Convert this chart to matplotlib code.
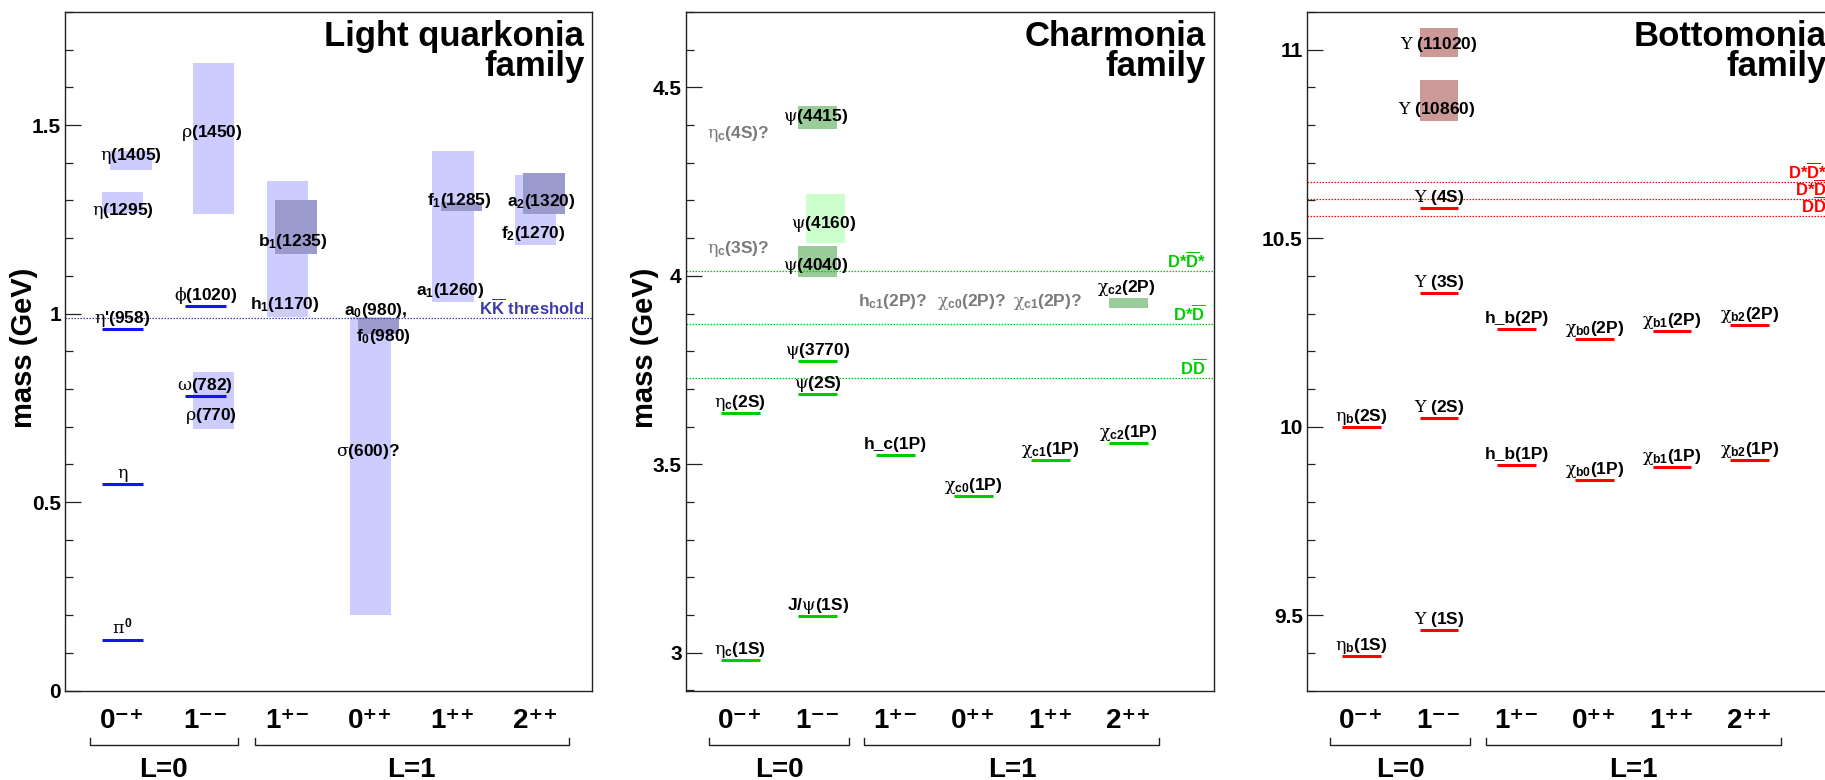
import matplotlib
matplotlib.use("Agg")
import matplotlib.pyplot as plt
from matplotlib.patches import Rectangle
from matplotlib.ticker import MultipleLocator
from matplotlib.transforms import blended_transform_factory, offset_copy

plt.rcParams.update({
    "font.family": ["Liberation Sans", "DejaVu Sans"],
    "font.weight": "bold",
    "mathtext.fontset": "custom",
    "mathtext.rm": "DejaVu Serif:weight=normal",
    "mathtext.it": "DejaVu Serif:weight=normal",
    "mathtext.bf": "Liberation Sans:weight=bold",
    "mathtext.sf": "Liberation Sans:weight=normal",
    "mathtext.fallback": "cm",
})

# ---------------------------------------------------------------- shared axes
jpc_labels = ["0\u207b\u207a", "1\u207b\u207b", "1\u207a\u207b",
              "0\u207a\u207a", "1\u207a\u207a", "2\u207a\u207a"]
jpc_columns = [1, 2, 3, 4, 5, 6]
orbital_labels = ["L=0", "L=1"]
orbital_spans = [(0.6, 2.4), (2.6, 6.4)]

# ---------------------------------------------------------------- light quarkonia (GeV)
light_level_names = [r"$\pi^{\mathbf{0}}$", r"$\eta$", r"$\eta$'(958)",
                     r"$\phi$(1020)", r"$\omega$(782)"]
light_level_col = [1, 1, 1, 2, 2]
light_level_mass = [0.135, 0.548, 0.958, 1.020, 0.782]

light_band_col = [1, 1, 2, 2, 3, 3, 4, 4, 5, 5, 6, 6]
light_band_mass = [1.295, 1.407, 1.465, 0.770, 1.171, 1.229, 0.595, 0.967,
                   1.231, 1.285, 1.274, 1.318]
light_band_width = [0.055, 0.050, 0.400, 0.150, 0.360, 0.142, 0.790, 0.045,
                    0.400, 0.024, 0.186, 0.108]
light_band_tone = ["pale", "pale", "pale", "pale", "pale", "dark", "pale", "dark",
                   "pale", "dark", "pale", "dark"]

light_tag_text = [r"$\eta$(1295)", r"$\eta$(1405)", r"$\rho$(1450)", r"$\rho$(770)",
                  r"$\mathbf{h_{1}}$(1170)", r"$\mathbf{b_{1}}$(1235)", r"$\sigma$(600)?",
                  r"$\mathbf{a_{0}}$(980),", r"$\mathbf{f_{0}}$(980)",
                  r"$\mathbf{a_{1}}$(1260)", r"$\mathbf{f_{1}}$(1285)",
                  r"$\mathbf{a_{2}}$(1320)", r"$\mathbf{f_{2}}$(1270)"]
light_tag_gray = [False] * 13

light_thr_names = [r"K$\overline{\mathbf{K}}$ threshold"]
light_thr_mass = [0.987]

# ---------------------------------------------------------------- charmonia (GeV)
charm_level_names = [r"$\eta_{\mathbf{c}}$(1S)", r"$\eta_{\mathbf{c}}$(2S)",
                     r"J/$\psi$(1S)", r"$\psi$(2S)", r"$\psi$(3770)", "h_c(1P)",
                     r"$\chi_{\mathbf{c0}}$(1P)", r"$\chi_{\mathbf{c1}}$(1P)",
                     r"$\chi_{\mathbf{c2}}$(1P)"]
charm_level_col = [1, 1, 2, 2, 2, 3, 4, 5, 6]
charm_level_mass = [2.980, 3.637, 3.097, 3.686, 3.773, 3.525, 3.415, 3.511, 3.556]

charm_band_col = [2, 2, 2, 6]
charm_band_mass = [4.037, 4.152, 4.420, 3.927]
charm_band_width = [0.082, 0.132, 0.062, 0.026]
charm_band_tone = ["dark", "pale", "dark", "dark"]

charm_tag_text = [r"$\psi$(4415)", r"$\psi$(4160)", r"$\psi$(4040)",
                  r"$\chi_{\mathbf{c2}}$(2P)", r"$\eta_{\mathbf{c}}$(4S)?",
                  r"$\eta_{\mathbf{c}}$(3S)?", r"$\mathbf{h_{c1}}$(2P)?",
                  r"$\chi_{\mathbf{c0}}$(2P)?", r"$\chi_{\mathbf{c1}}$(2P)?"]
charm_tag_gray = [False, False, False, False, True, True, True, True, True]

charm_thr_names = [r"D$\overline{\mathbf{D}}$", r"D*$\overline{\mathbf{D}}$",
                   r"D*$\overline{\mathbf{D}}$*"]
charm_thr_mass = [3.730, 3.872, 4.014]

# ---------------------------------------------------------------- bottomonia (GeV)
bottom_level_names = [r"$\eta_{\mathbf{b}}$(1S)", r"$\eta_{\mathbf{b}}$(2S)",
                      r"$\Upsilon$ (1S)", r"$\Upsilon$ (2S)", r"$\Upsilon$ (3S)",
                      r"$\Upsilon$ (4S)", "h_b(1P)", "h_b(2P)",
                      r"$\chi_{\mathbf{b0}}$(1P)", r"$\chi_{\mathbf{b0}}$(2P)",
                      r"$\chi_{\mathbf{b1}}$(1P)", r"$\chi_{\mathbf{b1}}$(2P)",
                      r"$\chi_{\mathbf{b2}}$(1P)", r"$\chi_{\mathbf{b2}}$(2P)"]
bottom_level_col = [1, 1, 2, 2, 2, 2, 3, 3, 4, 4, 5, 5, 6, 6]
bottom_level_mass = [9.391, 9.999, 9.460, 10.023, 10.355, 10.579, 9.899, 10.260,
                     9.859, 10.233, 9.893, 10.255, 9.912, 10.269]

bottom_band_col = [2, 2]
bottom_band_mass = [10.865, 11.019]
bottom_band_width = [0.110, 0.079]
bottom_band_tone = ["dark", "dark"]

bottom_tag_text = [r"$\Upsilon$ (10860)", r"$\Upsilon$ (11020)"]
bottom_tag_gray = [False, False]

bottom_thr_names = [r"D$\overline{\mathbf{D}}$", r"D*$\overline{\mathbf{D}}$",
                    r"D*$\overline{\mathbf{D}}$*"]
bottom_thr_mass = [10.558, 10.604, 10.650]

# ---------------------------------------------------------------- layout
light_band_shift = [0, 0.1, 0.1, 0.1, 0, 0.1, 0, 0.1, 0, 0.1, 0, 0.1]
light_tag_xy = [(1.00, 1.261), (1.10, 1.407), (2.08, 1.468), (2.07, 0.717),
                (2.96, 1.013), (3.06, 1.179), (3.97, 0.621), (4.06, 0.995),
                (4.16, 0.928), (4.97, 1.050), (5.07, 1.289), (6.07, 1.285),
                (5.97, 1.201)]
charm_band_shift = [0, 0.1, 0, 0]
charm_tag_xy = [(1.97, 4.411), (2.07, 4.128), (1.97, 4.016), (5.97, 3.958),
                (0.97, 4.365), (0.97, 4.060), (2.96, 3.921), (3.98, 3.921),
                (4.96, 3.921)]
bottom_band_shift = [0, 0]
bottom_tag_xy = [(1.97, 10.829), (2.00, 11.002)]

W, H = 1825, 780
fig = plt.figure(figsize=(W / 100, H / 100), dpi=100)

AX_BOTTOM = 1 - 690.5 / H
AX_HEIGHT = 678.5 / H
FRAME = "#222222"


def draw_family(left_px, width_px, xlim, ylim, major, major_txt, title, ylabel,
                levels, bands, tags, thresholds, colors):
    ax = fig.add_axes([left_px / W, AX_BOTTOM, width_px / W, AX_HEIGHT])
    ax.set_xlim(*xlim)
    ax.set_ylim(*ylim)
    for s in ax.spines.values():
        s.set_color(FRAME)
        s.set_linewidth(1.0)

    ax.set_yticks(major)
    ax.set_yticklabels(major_txt, fontsize=15, fontweight="bold")
    ax.yaxis.set_minor_locator(MultipleLocator(0.1))
    ax.tick_params(axis="y", which="major", direction="in", length=11.4,
                   width=0.9, color=FRAME, pad=3)
    ax.tick_params(axis="y", which="minor", direction="in", length=5.7,
                   width=0.9, color=FRAME)
    ax.tick_params(axis="x", bottom=False, labelbottom=False)

    # broad states as bands
    b_col, b_mass, b_width, b_tone, b_shift = bands
    for c, m, w, t, sh in zip(b_col, b_mass, b_width, b_tone, b_shift):
        ax.add_patch(Rectangle((c + sh - 0.25, m - w / 2), 0.5, w,
                               facecolor=colors[t], edgecolor="none", zorder=1))

    # narrow states as level lines with their names above
    l_names, l_col, l_mass = levels
    above = offset_copy(ax.transData, fig=fig, x=0, y=6, units="dots")
    for n, c, m in zip(l_names, l_col, l_mass):
        ax.plot([c - 0.25, c + 0.25], [m, m], color=colors["line"], lw=2.2,
                solid_capstyle="butt", zorder=3)
        ax.text(c, m, n, transform=above, ha="center", va="baseline",
                fontsize=12.5, zorder=5)

    # names of broad states and candidates
    t_text, t_gray, t_xy = tags
    for txt, g, (x, y) in zip(t_text, t_gray, t_xy):
        ax.text(x, y, txt, ha="center", va="baseline", fontsize=12.5,
                color="#7a7a7a" if g else "black", zorder=5)

    # open-flavour thresholds
    th_names, th_mass = thresholds
    right = blended_transform_factory(ax.transAxes, ax.transData)
    for n, m in zip(th_names, th_mass):
        ax.axhline(m, color=colors["thr"], lw=0.9, ls=(0, (1.2, 1.2)), zorder=2)
        ax.text(1 - 8 / width_px, m, n,
                transform=offset_copy(right, fig=fig, y=3, units="dots"),
                ha="right", va="baseline", fontsize=12, color=colors["thr"], zorder=5)

    # title
    t1, t2 = title
    ax.text(1 - 8 / width_px, 0.9503, t1, transform=ax.transAxes, ha="right",
            va="baseline", fontsize=25)
    ax.text(1 - 8 / width_px, 0.9057, t2, transform=ax.transAxes, ha="right",
            va="baseline", fontsize=25)

    if ylabel:
        ax.text(-41 / width_px, 0.505, ylabel, transform=ax.transAxes, rotation=90,
                ha="center", va="center", fontsize=21)

    # J^PC columns and L groups below the frame
    tr = blended_transform_factory(ax.transData, ax.transAxes)
    for c, lab in zip(jpc_columns, jpc_labels):
        ax.text(c, -0.0553, lab, transform=tr, ha="center", va="baseline",
                fontsize=20)
    for (x0, x1), lab in zip(orbital_spans, orbital_labels):
        ax.plot([x0, x0, x1, x1], [-0.070, -0.0803, -0.0803, -0.070], transform=tr,
                clip_on=False, color=FRAME, lw=1.0)
        ax.text((x0 + x1) / 2, -0.127, lab, transform=tr, ha="center",
                va="baseline", fontsize=20)
    return ax


draw_family(65.2, 527.1, (0.305, 6.686), (0.0, 1.8), [0, 0.5, 1.0, 1.5],
            ["0", "0.5", "1", "1.5"], ("Light quarkonia", "family"), "mass (GeV)",
            (light_level_names, light_level_col, light_level_mass),
            (light_band_col, light_band_mass, light_band_width, light_band_tone,
             light_band_shift),
            (light_tag_text, light_tag_gray, light_tag_xy),
            (light_thr_names, light_thr_mass),
            {"line": "#1414f0", "pale": "#ccccff", "dark": "#9a9acc",
             "thr": "#3c3cac"})

draw_family(685.8, 528.0, (0.30, 7.10), (2.9, 4.7), [3.0, 3.5, 4.0, 4.5],
            ["3", "3.5", "4", "4.5"], ("Charmonia", "family"), "mass (GeV)",
            (charm_level_names, charm_level_col, charm_level_mass),
            (charm_band_col, charm_band_mass, charm_band_width, charm_band_tone,
             charm_band_shift),
            (charm_tag_text, charm_tag_gray, charm_tag_xy),
            (charm_thr_names, charm_thr_mass),
            {"line": "#00cc00", "pale": "#ccffcc", "dark": "#99cc99",
             "thr": "#00cc00"})

draw_family(1307.0, 528.0, (0.30, 7.10), (9.3, 11.1), [9.5, 10.0, 10.5, 11.0],
            ["9.5", "10", "10.5", "11"], ("Bottomonia", "family"), None,
            (bottom_level_names, bottom_level_col, bottom_level_mass),
            (bottom_band_col, bottom_band_mass, bottom_band_width, bottom_band_tone,
             bottom_band_shift),
            (bottom_tag_text, bottom_tag_gray, bottom_tag_xy),
            (bottom_thr_names, bottom_thr_mass),
            {"line": "#ff0000", "pale": "#e6cccc", "dark": "#cc9999",
             "thr": "#ff0000"})

fig.savefig("out.png", dpi=100)
